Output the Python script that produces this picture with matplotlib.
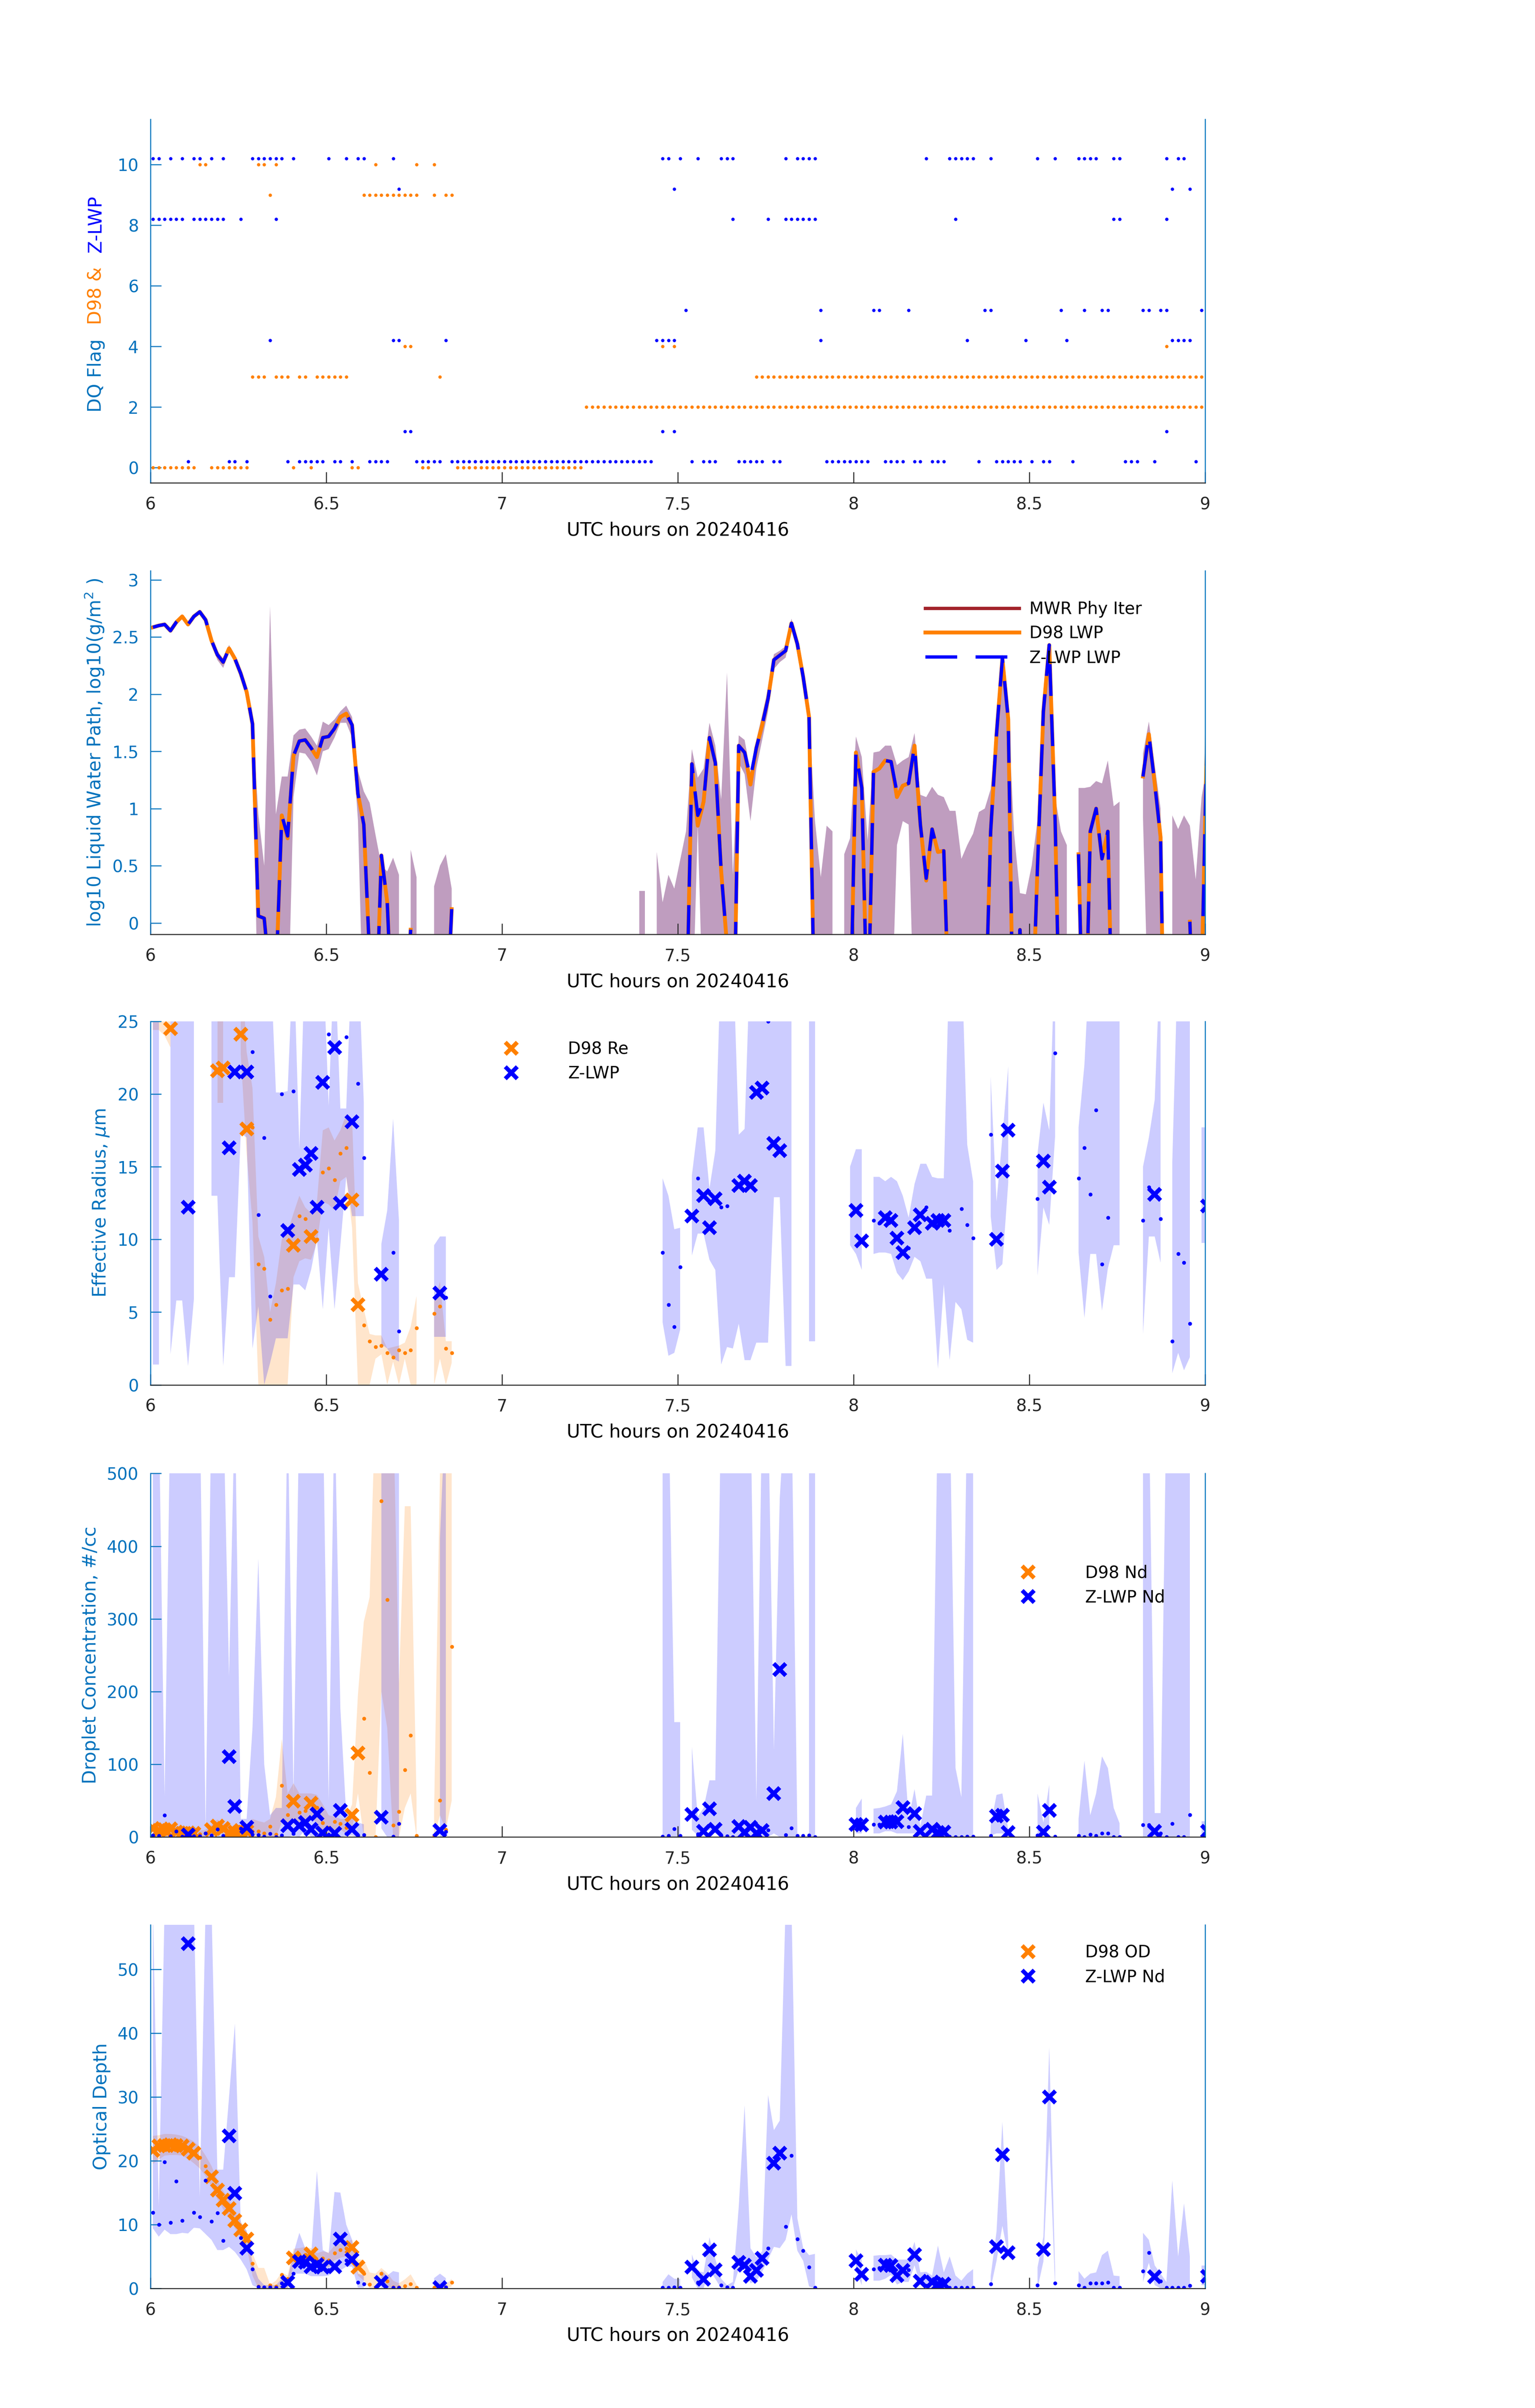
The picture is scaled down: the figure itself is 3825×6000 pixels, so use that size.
import numpy as np
import matplotlib
matplotlib.use("Agg")
import matplotlib.pyplot as plt
from matplotlib.ticker import FormatStrFormatter

plt.rcParams["font.family"] = ["DejaVu Sans"]
plt.rcParams["mathtext.fontset"] = "dejavusans"

# ---------------------------------------------------------------------------
# Data: one sample per minute, 06:00 - 09:00 UTC on 20240416
# ---------------------------------------------------------------------------
N_MIN = 181
TIME = 6 + (np.arange(N_MIN) + 0.42) / 60.0

# DQ flags, given as runs of minute indices per flag value
D98_FLAG_LEVELS = [0, 2, 3, 4, 9, 10]
D98_FLAG_MINUTES = [
    [(0, 7), (10, 16), 24, 27, 34, 35, 46, 47, (52, 73)],
    [(74, 180)],
    [(17, 19), (21, 23), 25, 26, (28, 33), 49, (103, 180)],
    [43, 44, 87, 89, 173],
    [20, (36, 45), 48, 50, 51],
    [8, 9, 18, 19, 21, 38, 45, 48],
]
ZLWP_FLAG_LEVELS = [0, 1, 4, 5, 8, 9, 10]
ZLWP_FLAG_MINUTES = [
    [6, 13, 14, 16, 23, (25, 29), 31, 32, 34, (37, 40), (45, 49), (51, 85), 92,
     (94, 96), (100, 104), 106, 107, (115, 122), (125, 128), 130, 131, (133, 135),
     141, (144, 148), 150, 152, 153, 157, (166, 168), 171, 178, 180],
    [43, 44, 87, 89, 173],
    [20, 41, 42, 50, (86, 89), 114, 139, 149, 156, (174, 177)],
    [91, 114, 123, 124, 129, 142, 143, 155, 159, 162, 163, 169, 170, 172, 173, 179],
    [(0, 5), (7, 12), 15, 21, 99, 105, (108, 113), 137, 164, 165, 173],
    [42, 89, 174, 177],
    [0, 1, 3, 5, 7, 8, 10, 12, (17, 22), 24, 30, 33, 35, 36, 41, 87, 88, 90, 93,
     (97, 99), 108, (110, 113), 132, (136, 140), 143, 151, 154, (158, 161), 164,
     165, 173, 175, 176],
]

# log10 LWP (g/m2), segments of (first minute, values)
ZLWP_LOG = [
    (0, [2.585, 2.60, 2.61, 2.555, 2.63, 2.68, 2.61, 2.68, 2.72, 2.65,
         2.47, 2.345, 2.28, 2.40, 2.31, 2.18, 2.02, 1.74, 0.06, 0.04,
         -0.5, -0.5, 0.94, 0.76, 1.46, 1.59, 1.60, 1.53, 1.45, 1.62,
         1.63, 1.70, 1.80, 1.83, 1.73, 1.13, 0.86, -0.3, -1.0, 0.59,
         0.18, -1.0]),
    (43, [-1.0, -0.06]),
    (50, [-1.0, 0.12]),
    (91, [-1.0, 1.39, 0.94, 1.06, 1.62, 1.40, 0.45, -0.2, -1.5, 1.55,
          1.49, 1.27, 1.53, 1.73, 1.96, 2.30, 2.34, 2.38, 2.62, 2.44,
          2.15, 1.80, -1.0]),
    (119, [-1.0, 1.49, 1.18, -1.0, 1.32, 1.35, 1.42, 1.41, 1.14, 1.20,
           1.22, 1.55, 0.86, 0.39, 0.82, 0.62, 0.63, -1.0]),
    (142, [-1.0, 0.8, 1.65, 2.31, 1.78, -1.5, -0.06, -1.0, -1.0, 0.5,
           1.85, 2.43, 0.9, -1.5]),
    (158, [0.60, -1.5, 0.80, 1.00, 0.56, 0.80, -1.5]),
    (169, [1.28, 1.65, 1.22, 0.75, -2.5]),
    (177, [0.01, -1.5, -0.5, 1.8]),
]
D98_LOG = [
    (0, [2.585, 2.60, 2.61, 2.555, 2.63, 2.68, 2.61, 2.68, 2.72, 2.65,
         2.47, 2.345, 2.28, 2.40, 2.31, 2.18, 2.02, 1.74, 0.06, 0.04,
         -0.5, -0.5, 0.94, 0.74, 1.46, 1.59, 1.60, 1.53, 1.45, 1.62,
         1.63, 1.70, 1.80, 1.83, 1.73, 1.13, 0.86, -0.3, -1.0, 0.59,
         0.18, -1.0]),
    (43, [-1.0, -0.06]),
    (50, [-1.0, 0.12]),
    (91, [-1.0, 1.39, 0.85, 1.06, 1.62, 1.40, 0.45, -0.2, -1.5, 1.55,
          1.49, 1.21, 1.53, 1.73, 1.96, 2.30, 2.34, 2.38, 2.62, 2.44,
          2.15, 1.80, -1.0]),
    (119, [-1.0, 1.49, 1.18, -1.0, 1.32, 1.35, 1.42, 1.41, 1.10, 1.20,
           1.22, 1.55, 0.86, 0.37, 0.82, 0.62, 0.63, -1.0]),
    (142, [-1.0, 0.8, 1.65, 2.31, 1.78, -1.5, -0.06, -1.0, -1.0, 0.5,
           1.85, 2.43, 0.9, -1.5]),
    (158, [0.60, -1.5, 0.80, 1.00, 0.56, 0.80, -1.5]),
    (169, [1.28, 1.65, 1.22, 0.75, -2.5]),
    (177, [0.01, -1.5, -0.5, 1.8]),
]
MWR_LOG = [
    (0, [2.585, 2.60, 2.61, 2.555, 2.63, 2.68, 2.61, 2.68, 2.72, 2.65,
         2.47, 2.345, 2.28, 2.40, 2.31, 2.18, 2.02, 1.74, 0.06, 0.04,
         -0.5, -0.5, 0.94, 0.74, 1.46, 1.59, 1.60, 1.53, 1.45, 1.62,
         1.63, 1.70, 1.80, 1.83, 1.73, 1.13, 0.86, -0.3, -1.0, 0.59,
         0.18, -1.0]),
    (91, [-1.0, 1.39, 0.85, 1.06, 1.62, 1.40, 0.45, -0.2, -1.5, 1.55,
          1.49, 1.21, 1.53, 1.73, 1.96, 2.30, 2.34, 2.38, 2.62, 2.44,
          2.15, 1.80, -1.0]),
    (119, [-1.0, 1.49, 1.18, -1.0, 1.32, 1.35, 1.42, 1.41, 1.10, 1.20,
           1.22, 1.55, 0.86, 0.37, 0.82, 0.62, 0.63, -1.0]),
    (142, [-1.0, 0.8, 1.65, 2.31, 1.78, -1.5, -0.06, -1.0, -1.0, 0.5,
           1.85, 2.43, 0.9, -1.5]),
    (158, [0.60, -1.5, 0.80, 1.00, 0.56, 0.80, -1.5]),
    (169, [1.28, 1.65, 1.22, 0.75, -2.5]),
]
# MWR Phy Iter uncertainty range, (low, high) per minute
MWR_BAND = [
    (0, [(2.575, 2.595), (2.59, 2.61), (2.60, 2.62), (2.545, 2.565), (2.62, 2.64),
         (2.67, 2.69), (2.60, 2.62), (2.67, 2.69), (2.71, 2.73), (2.64, 2.66),
         (2.44, 2.50), (2.30, 2.38), (2.23, 2.31), (2.37, 2.43), (2.28, 2.34),
         (2.15, 2.21), (1.99, 2.05), (1.70, 1.78), (-1, 0.95), (-1, 0.50),
         (-1, 2.77), (-1, 0.95), (-1, 1.28), (-1, 1.28), (1.10, 1.64),
         (1.49, 1.69), (1.48, 1.70), (1.41, 1.63), (1.29, 1.55), (1.50, 1.76),
         (1.52, 1.73), (1.62, 1.78), (1.75, 1.85), (1.75, 1.90), (1.62, 1.80),
         (0.90, 1.33), (-1, 1.15), (-1, 1.05), (-1, 0.77), (-1, 0.50),
         (-1, 0.45), (-1, 0.57), (-1, 0.42)]),
    (44, [(-1, 0.64), (-1, 0.40)]),
    (48, [(-1, 0.32), (-1, 0.50), (-1, 0.60), (-1, 0.30)]),
    (83, [(-1, 0.28), (-1, 0.28)]),
    (86, [(-1, 0.62), (-1, 0.18), (-1, 0.42), (-1, 0.30), (-1, 0.55), (-1, 0.80),
          (-1, 1.52), (0.85, 1.27), (-1, 1.35), (-1, 1.75), (-1, 1.55), (-1, 1.08),
          (-1, 2.19), (-1, 0.42), (1.40, 1.64), (1.30, 1.60), (0.89, 1.32),
          (1.35, 1.60), (1.60, 1.82), (1.85, 2.05), (2.22, 2.35), (2.28, 2.38),
          (2.32, 2.42), (2.56, 2.66), (2.38, 2.48), (2.08, 2.20), (1.72, 1.85),
          (-1, 0.90), (-1, 0.40), (-1, 0.85), (-1, 0.80)]),
    (118, [(-1, 0.60), (-1, 0.74), (-1, 1.63), (-1, 1.45), (-1, 0.72), (-1, 1.49),
           (-1, 1.50), (-1, 1.55), (-1, 1.55), (0.68, 1.38), (0.89, 1.42),
           (0.86, 1.45), (-1, 1.66), (-1, 1.12), (-1, 1.10), (-1, 1.19), (-1, 1.12),
           (-1, 1.10), (-1, 0.98), (-1, 0.98), (-1, 0.56), (-1, 0.68), (-1, 0.78),
           (-1, 0.97), (-1, 1.00), (-1, 1.17), (-1, 1.75), (-1, 2.35), (-1, 1.85),
           (-1, 0.78), (-1, 0.26), (-1, 0.25), (-1, 0.50), (-1, 0.90), (-1, 1.90),
           (-1, 2.45), (-1, 1.10), (-1, 0.80), (-1, 0.68)]),
    (158, [(-1, 1.18), (-1, 1.18), (-1, 1.19), (-1, 1.24), (-1, 1.22), (-1, 1.42),
           (-1, 1.02), (-1, 1.06)]),
    (169, [(0.92, 1.48), (-1, 1.76), (-1, 1.38), (-1, 1.00)]),
    (174, [(-1, 0.94), (-1, 0.82), (-1, 0.94), (-1, 0.85), (-1, 0.38), (-1, 1.10),
           (-1, 1.40)]),
]

# Effective radius (um): (minute, value); "X" = flag 0, dots = other flags
D98_RE_X = [(3, 24.5), (11, 21.6), (12, 21.8), (15, 24.1), (16, 17.6), (24, 9.6),
            (27, 10.2), (34, 12.7), (35, 5.5)]
D98_RE_DOT = [(17, 17.7), (18, 8.3), (19, 8.0), (20, 4.5), (21, 5.5), (22, 6.5),
              (23, 6.6), (25, 11.6), (26, 11.4), (28, 10.0), (29, 14.6), (30, 14.9),
              (31, 14.1), (32, 15.9), (33, 16.3), (36, 4.1), (37, 3.0), (38, 2.6),
              (39, 2.7), (40, 2.2), (41, 1.9), (42, 2.4), (43, 2.2), (44, 2.4),
              (45, 3.9), (48, 4.9), (49, 5.4), (50, 2.5), (51, 2.2)]
D98_RE_BAND = [
    (0, [(24.4, 30), (24.4, 30), (24.0, 30), (23.2, 30)]),
    (11, [(19.4, 30), (19.4, 30)]),
    (15, [(22.7, 30), (15.9, 22.9), (11.2, 20.4), (0, 10.2), (0, 8.8), (0, 5.0),
          (0, 7.0), (0, 10.0), (0, 10.5), (7.4, 11.8), (8.5, 13.0), (8.7, 12.2),
          (8.6, 11.8), (9.8, 12.6), (12.6, 17.5), (12.4, 17.7), (12.0, 16.8),
          (14.0, 17.5), (14.3, 18.6), (10.8, 18.3), (0, 7.0), (0, 5.2), (0, 3.5),
          (1.8, 3.4), (2.1, 3.4), (0, 2.5), (1.6, 2.6), (0, 2.7), (1.8, 2.9),
          (0, 4.0), (0, 6.1)]),
    (48, [(0, 5.8), (1.8, 7.1), (0, 3.0), (1.5, 3.0)]),
]
ZLWP_RE_X = [(6, 12.2), (13, 16.3), (14, 21.5), (16, 21.5), (23, 10.6), (25, 14.8),
             (26, 15.1), (27, 15.9), (28, 12.2), (29, 20.8), (31, 23.2), (32, 12.5),
             (34, 18.1), (39, 7.6), (49, 6.3), (92, 11.6), (94, 13.0), (95, 10.8),
             (96, 12.8), (100, 13.7), (101, 14.0), (102, 13.7), (103, 20.1),
             (104, 20.4), (106, 16.6), (107, 16.1), (120, 12.0), (121, 9.9),
             (125, 11.5), (126, 11.3), (127, 10.1), (128, 9.1), (130, 10.8),
             (131, 11.7), (133, 11.1), (134, 11.3), (135, 11.3), (144, 10.0),
             (145, 14.7), (146, 17.5), (152, 15.4), (153, 13.6), (171, 13.1),
             (180, 12.3)]
ZLWP_RE_DOT = [(17, 22.9), (18, 11.7), (19, 17.0), (20, 6.1), (22, 20.0), (24, 20.2),
               (30, 24.1), (33, 23.9), (35, 20.7), (36, 15.6), (41, 9.1), (42, 3.7),
               (50, 6.0), (87, 9.1), (88, 5.5), (89, 4.0), (90, 8.1), (93, 14.2),
               (97, 12.2), (98, 12.3), (105, 25.0), (123, 11.3), (124, 11.1),
               (129, 9.4), (132, 12.2), (136, 10.6), (138, 12.1), (139, 11.0),
               (140, 10.1), (143, 17.2), (151, 12.8), (154, 22.8), (158, 14.2),
               (159, 16.3), (160, 13.1), (161, 18.9), (162, 8.3), (163, 11.5),
               (169, 11.3), (170, 13.6), (172, 11.4), (174, 3.0), (175, 9.0),
               (176, 8.4), (177, 4.2)]
ZLWP_RE_BAND = [
    (0, [(1.4, 30), (1.4, 30)]),
    (3, [(2.1, 30), (5.8, 30), (5.8, 30), (1.3, 30), (5.9, 30)]),
    (10, [(13.0, 30), (13.0, 30), (1.3, 30), (7.4, 30), (7.4, 30), (17.3, 30),
          (17.0, 30), (2.5, 30), (5.4, 30), (0, 30), (1.5, 30), (3.2, 20.1),
          (3.2, 20.1), (3.2, 20.2), (6.9, 30), (6.9, 16.2), (6.5, 30), (7.9, 30),
          (10.0, 30), (5.2, 30), (10.8, 19.2), (5.2, 30), (9.6, 19.0), (14.3, 19.0),
          (11.6, 30), (11.6, 30), (11.6, 19.4)]),
    (39, [(2.8, 9.7), (2.5, 12.0), (1.8, 18.3), (1.6, 11.3)]),
    (48, [(3.3, 9.6), (3.3, 10.2), (3.3, 10.2)]),
    (87, [(4.3, 14.2), (2.0, 13.0), (2.2, 10.7), (3.8, 10.8)]),
    (92, [(8.9, 14.4), (10.4, 17.7), (10.4, 17.7), (8.6, 13.5), (7.9, 16.1),
          (1.4, 30), (2.6, 30), (2.5, 30), (4.2, 17.2), (1.7, 17.6), (1.7, 30),
          (2.9, 30), (2.9, 30), (2.9, 30), (12.9, 30), (12.9, 30), (1.3, 30),
          (1.3, 30)]),
    (112, [(3.0, 30), (3.0, 30)]),
    (119, [(9.6, 15.0), (9.0, 16.2), (7.9, 16.2)]),
    (123, [(9.0, 14.3), (9.1, 14.3), (9.1, 14.0), (9.0, 14.3), (7.7, 14.0),
           (7.2, 13.0), (7.8, 11.5), (8.8, 13.8), (8.5, 15.2), (7.3, 15.2),
           (7.3, 14.3), (1.1, 14.2), (6.9, 14.2), (1.7, 30), (5.7, 30), (5.2, 30),
           (3.1, 16.5), (2.9, 14.0)]),
    (143, [(11.6, 21.2), (7.9, 12.6), (8.3, 17.0), (13.9, 21.9)]),
    (151, [(7.5, 15.9), (12.2, 19.4), (11.0, 17.5), (17.1, 30)]),
    (158, [(9.1, 17.7), (4.6, 22.0), (9.0, 30), (9.0, 30), (5.1, 30), (8.0, 30),
           (9.6, 30), (9.6, 30)]),
    (169, [(3.5, 15.0), (10.2, 17.0), (10.2, 19.6), (8.4, 30)]),
    (174, [(0.8, 15.3), (2.2, 30), (1.0, 30), (1.9, 30)]),
    (179, [(9.75, 17.7), (9.75, 17.7)]),
]

# Droplet concentration (#/cc)
D98_ND_X = [(0, 12), (1, 9), (2, 10), (3, 11), (4, 7), (5, 5), (6, 6), (7, 5),
            (10, 10), (11, 15), (12, 12), (13, 6), (14, 7), (15, 9), (16, 8),
            (24, 49.2), (27, 46.4), (34, 29.9), (35, 115.3)]
D98_ND_DOT = [(8, 4), (9, 5), (17, 8.1), (18, 8.0), (19, 5.3), (20, 14.8), (21, 3.5),
              (22, 71.0), (23, 30.6), (25, 34.1), (26, 35.9), (28, 40.4), (29, 19.3),
              (30, 13.0), (31, 21.1), (32, 18.3), (33, 13.0), (36, 162.8), (37, 88.6),
              (38, 0.0), (39, 462.4), (40, 326.3), (41, 16.5), (42, 35.2), (43, 92.5),
              (44, 139.9), (45, 1.8), (48, 1.1), (49, 50.3), (50, 10.0), (51, 262.0)]
D98_ND_BAND = [
    (0, [(2, 20), (1, 16), (2, 17), (2, 18), (1, 14), (0, 11), (0, 12), (0, 11),
         (0, 9), (0, 10), (3, 17), (6, 24), (4, 20), (0, 12), (0, 13), (2, 16),
         (1, 15), (0, 25), (0, 22), (0, 20), (0, 25), (0, 55), (20, 135), (10, 60),
         (25, 74), (15, 60), (20, 60), (25, 60), (20, 58), (5, 45), (5, 30),
         (10, 28), (10, 25), (5, 25), (10, 45), (60, 196), (0, 296), (0, 330),
         (0, 600), (200, 600), (150, 600), (0, 600), (0, 211), (40, 455),
         (60, 455), (0, 51)]),
    (48, [(0, 35), (30, 500), (10, 600), (50, 600)]),
]
ZLWP_ND_X = [(6, 3.0), (13, 110.8), (14, 42.2), (16, 13.4), (23, 15.8), (25, 15.8),
             (26, 20.0), (27, 10.5), (28, 31.6), (29, 6.0), (31, 5.3), (32, 36.9),
             (34, 10.5), (39, 27.1), (49, 8.8), (92, 30.9), (94, 8.1), (95, 38.7),
             (96, 10.5), (100, 14.8), (101, 6.3), (102, 13.4), (103, 5.3), (104, 8.8),
             (106, 59.8), (107, 230.3), (120, 17.6), (121, 16.9), (125, 20.4),
             (126, 20.4), (127, 21.1), (128, 40.4), (130, 32.3), (131, 8.1),
             (133, 10.5), (134, 6.3), (135, 7.0), (144, 28.8), (145, 29.9), (146, 6.3),
             (152, 7.0), (153, 36.9), (171, 8.1), (180, 8.1)]
ZLWP_ND_DOT = [(0, 2.5), (1, 1.8), (2, 29.9), (3, 1.1), (4, 8.1), (5, 0.7), (7, 1.4),
               (8, 1.1), (9, 5.3), (10, 2.5), (11, 10.5), (12, 1.8), (15, 11.6),
               (17, 3.5), (18, 2.8), (19, 0.7), (20, 4.6), (21, 0.0), (22, 2.5),
               (24, 4.6), (30, 3.5), (33, 4.6), (35, 2.5), (36, 2.8), (41, 0.7),
               (42, 18.6), (50, 7.4), (87, 0.7), (88, 1.8), (89, 11.5), (90, 1.8),
               (93, 4.2), (97, 2.5), (98, 1.1), (99, 0.0), (105, 9.5), (108, 2.8),
               (109, 12.3), (110, 1.8), (111, 1.8), (112, 2.5), (113, 0.0), (123, 17.6),
               (124, 17.6), (129, 14.1), (132, 2.5), (136, 0.7), (137, 0.0), (138, 0.0),
               (139, 0.7), (140, 0.7), (143, 1.8), (151, 2.5), (154, 0.7), (158, 1.8),
               (159, 0.0), (160, 3.5), (161, 1.8), (162, 5.3), (163, 5.3), (164, 0.0),
               (165, 0.0), (169, 16.9), (170, 16.9), (172, 5.3), (173, 0.0), (174, 18.6),
               (175, 0.0), (176, 0.0), (177, 30.6)]
ZLWP_ND_BAND = [
    (0, [(0, 600), (0, 600), (0, 56), (0, 600), (0, 600), (0, 600), (0, 600),
         (0, 600), (0, 600), (0, 12), (0, 600), (0, 600), (0, 600), (0, 221),
         (0, 600), (0, 25), (0, 25), (5, 150), (0, 383), (0, 100), (0, 30), (0, 40),
         (0, 40), (0, 600), (2, 60), (0, 600), (10, 600), (0, 600), (0, 600),
         (0, 600), (0, 50), (0, 600), (0, 177), (2, 30), (2, 30), (0, 20),
         (0, 17.6)]),
    (39, [(12, 600), (0, 600), (0, 600), (0, 600)]),
    (49, [(0, 411), (0, 600)]),
    (87, [(0, 600), (0, 600), (0, 158), (0, 158)]),
    (92, [(10, 124), (2, 28), (5, 40), (10, 78), (5, 78), (0, 600), (0, 600),
          (0, 600), (0, 600), (0, 600), (0, 600), (0, 50), (0, 600), (0, 600),
          (5, 120), (0, 466), (0, 600), (0, 600), (0, 10)]),
    (112, [(0, 600), (0, 600)]),
    (120, [(5, 40), (5, 53)]),
    (123, [(5, 39), (5, 40), (8, 42), (8, 45), (5, 63), (5, 142), (5, 25), (5, 66),
           (0, 15), (0, 57), (0, 57), (0, 600), (0, 600), (0, 600), (0, 95), (0, 55),
           (0, 600), (0, 600)]),
    (143, [(2, 16), (5, 58), (5, 60), (0, 10)]),
    (151, [(0, 60), (2, 20), (10, 72)]),
    (158, [(0, 25), (0, 105), (0, 30), (0, 60), (0, 111), (0, 95), (0, 40), (0, 19)]),
    (169, [(0, 600), (0, 600), (0, 33), (0, 33), (0, 600), (0, 600), (0, 600),
           (0, 600), (0, 600)]),
    (179, [(0, 22), (0, 22)]),
]

# Optical depth
D98_OD_X = [(0, 21.6), (1, 22.3), (2, 22.4), (3, 22.5), (4, 22.4), (5, 22.3),
            (6, 21.8), (7, 21.2), (10, 17.5), (11, 15.4), (12, 13.8), (13, 12.5),
            (14, 10.6), (15, 9.2), (16, 7.7), (24, 4.75), (27, 5.4), (34, 6.4),
            (35, 3.3)]
D98_OD_DOT = [(8, 20.5), (9, 19.2), (17, 3.9), (18, 0.3), (19, 0.1), (20, 0.5),
              (21, 0.3), (22, 2.1), (23, 1.5), (25, 5.2), (26, 5.3), (28, 4.3),
              (29, 4.7), (30, 4.4), (31, 5.5), (32, 6.0), (33, 6.25), (36, 2.3),
              (37, 0.6), (38, 0.1), (39, 2.3), (40, 1.1), (41, 0.2), (42, 0.2),
              (43, 0.35), (44, 0.66), (45, 0.1), (48, 0.1), (49, 0.2), (50, 0.2),
              (51, 0.9)]
D98_OD_BAND = [
    (0, [(19.5, 23.9), (20.2, 24.0), (20.8, 24.2), (20.9, 24.2), (20.9, 24.1),
         (20.8, 23.9), (20.3, 23.5), (19.6, 23.0), (18.8, 22.2), (17.6, 20.8),
         (15.9, 19.2), (14.0, 17.0), (12.4, 15.3), (11.2, 13.9), (9.4, 12.0),
         (8.1, 10.5), (6.5, 9.0), (2.0, 5.5), (0, 3.2), (0, 3.2), (0, 0.6),
         (0, 1.2), (0, 2.5), (0, 2.0), (3.5, 6.2), (4.1, 6.3), (4.2, 6.5),
         (4.3, 6.3), (3.2, 5.5), (3.5, 5.8), (3.3, 5.6), (4.4, 6.7), (4.8, 7.0),
         (5.0, 7.3), (5.0, 7.6), (2.0, 4.5), (1.2, 4.5), (0, 2.5), (0, 2.3),
         (1.0, 3.2), (0.3, 2.4), (0, 1.2), (0, 0.8), (0, 1.4), (0, 2.2), (0, 0.6)]),
    (48, [(0, 0.6), (0, 0.8), (0, 0.6), (0.3, 1.5)]),
]
ZLWP_OD_X = [(6, 54.0), (13, 23.9), (14, 14.9), (16, 6.3), (23, 0.9), (25, 4.2),
             (26, 4.1), (27, 3.4), (28, 3.7), (29, 3.3), (31, 3.4), (32, 7.7),
             (34, 4.5), (39, 0.9), (49, 0.13), (92, 3.3), (94, 1.45), (95, 6.0),
             (96, 2.9), (100, 4.1), (101, 3.65), (102, 1.9), (103, 2.8), (104, 4.7),
             (106, 19.6), (107, 21.2), (120, 4.3), (121, 2.2), (125, 3.65), (126, 3.6),
             (127, 2.0), (128, 2.8), (130, 5.3), (131, 1.1), (133, 1.0), (134, 0.6),
             (135, 0.66), (144, 6.5), (145, 20.95), (146, 5.6), (152, 6.1), (153, 30.0),
             (171, 1.8), (180, 1.9)]
ZLWP_OD_DOT = [(0, 11.9), (1, 10.0), (2, 19.8), (3, 10.3), (4, 16.8), (5, 10.6),
               (7, 11.9), (8, 11.2), (9, 16.9), (10, 10.5), (11, 11.8), (12, 7.5),
               (15, 7.9), (17, 3.0), (18, 0.26), (19, 0.2), (20, 0.2), (21, 0.1),
               (22, 0.8), (24, 2.3), (30, 2.9), (33, 4.4), (35, 0.9), (36, 0.66),
               (41, 0.13), (42, 0.1), (50, 0.2), (87, 0.13), (88, 0.13), (89, 0.2),
               (90, 0.13), (93, 0.9), (97, 0.5), (98, 0.2), (99, 0.1), (105, 6.3),
               (108, 9.7), (109, 20.8), (110, 7.7), (111, 5.9), (112, 3.3), (113, 0.1),
               (123, 3.0), (124, 3.2), (129, 2.9), (132, 0.4), (136, 0.1), (137, 0.1),
               (138, 0.1), (139, 0.1), (140, 0.1), (143, 0.66), (151, 0.5), (154, 0.8),
               (158, 0.5), (159, 0.1), (160, 0.8), (161, 0.8), (162, 0.8), (163, 0.9),
               (164, 0.1), (165, 0.1), (169, 2.7), (170, 5.6), (172, 1.1), (173, 0.1),
               (174, 0.1), (175, 0.1), (176, 0.1), (177, 0.4)]
ZLWP_OD_BAND = [
    (0, [(9.4, 60), (8.1, 12.9), (9.2, 60), (8.5, 60), (8.5, 60), (8.7, 60),
         (8.6, 60), (9.5, 60), (9.4, 14.4), (8.5, 60), (7.6, 60), (6.0, 18.6),
         (6.0, 18.6), (6.5, 30), (5.7, 41.5), (4.5, 10.3), (3.0, 9.0), (0.5, 4.0),
         (0, 1.5), (0, 0.5), (0, 0.5), (0, 0.5), (0.2, 1.5), (0.1, 1.5), (2.3, 5.5),
         (2.3, 8.7), (2.3, 6.3), (1.9, 5.0), (1.9, 18.4), (1.9, 6.0), (2.0, 5.5),
         (2.8, 15.1), (2.8, 15.0), (3.4, 10.0), (3.4, 7.6), (0.1, 2.3), (0.1, 2.0)]),
    (39, [(0.1, 2.8), (0.1, 2.0), (0, 2.7), (0, 2.5)]),
    (48, [(0, 1.6), (0, 2.3), (0, 1.6)]),
    (87, [(0, 1.0), (0, 2.2), (0, 1.5), (0, 1.5)]),
    (92, [(1.7, 5.3), (0, 2.7), (0, 2.5), (2.9, 8.0), (1.5, 4.6), (0, 1.5), (0, 0.5),
          (0, 1.0), (3.0, 12.8), (3.2, 28.7), (0.8, 6.3), (1.1, 4.9), (2.6, 5.8),
          (4.5, 30.3), (6.5, 24.8), (6.3, 26.3), (7.6, 60), (11.6, 60), (5.9, 11.0),
          (4.3, 6.3), (0.3, 5.2), (0, 5.4)]),
    (120, [(2.8, 6.1), (0.5, 4.5)]),
    (123, [(1.2, 5.1), (1.2, 5.2), (1.5, 5.2), (2.1, 5.3), (0.6, 4.5), (1.0, 4.5),
           (1.0, 4.5), (3.6, 7.3), (0.5, 2.5), (0, 2.6), (0, 2.0), (0, 6.7),
           (0, 2.5), (0, 5.0), (0, 2.0), (0, 1.2), (0, 2.3), (0, 3.0)]),
    (143, [(0, 1.9), (4.3, 8.9), (9.8, 26.1), (5.0, 7.2)]),
    (151, [(0, 3.3), (4.2, 8.1), (23.9, 37.8), (0, 2.7)]),
    (158, [(0, 2.7), (0, 1.5), (0, 2.3), (0, 2.5), (0, 5.2), (0, 5.9), (0, 2.0),
           (0, 1.9)]),
    (169, [(1.0, 8.7), (4.0, 7.6), (0.5, 3.6), (0, 2.3), (0, 1.0), (0, 16.9),
           (0, 5.0), (0, 13.3), (0, 5.0)]),
    (179, [(0.5, 3.6), (0.5, 3.6)]),
]

# ---------------------------------------------------------------------------
# Styling
# ---------------------------------------------------------------------------
AX_BLUE = "#0072BD"
ORANGE = "#FF8000"
BLUE = "#0000FF"
MWR_RED = "#A2232A"
BAND_PURPLE = (0.5, 0.24, 0.5)
DARK = "#262626"
XTICKS = [6, 6.5, 7, 7.5, 8, 8.5, 9]


def expand(runs):
    idx = []
    for r in runs:
        if isinstance(r, tuple):
            idx.extend(range(r[0], r[1] + 1))
        else:
            idx.append(r)
    return np.array(idx, dtype=int)


def series(segments):
    out = np.full(N_MIN, np.nan)
    for start, vals in segments:
        out[start:start + len(vals)] = vals
    return out


def band(segments):
    lo = np.full(N_MIN, np.nan)
    hi = np.full(N_MIN, np.nan)
    for start, pairs in segments:
        arr = np.asarray(pairs, dtype=float)
        lo[start:start + len(arr)] = arr[:, 0]
        hi[start:start + len(arr)] = arr[:, 1]
    return lo, hi


def points(pairs):
    arr = np.asarray(pairs, dtype=float)
    return TIME[arr[:, 0].astype(int)], arr[:, 1]


def style_axes(ax, ylim, yticks, ylabel=None):
    ax.set_xlim(6, 9)
    ax.set_ylim(*ylim)
    ax.set_xticks(XTICKS)
    ax.set_yticks(yticks)
    ax.xaxis.set_major_formatter(FormatStrFormatter("%g"))
    ax.yaxis.set_major_formatter(FormatStrFormatter("%g"))
    ax.spines["top"].set_visible(False)
    for side in ("left", "right"):
        ax.spines[side].set_color(AX_BLUE)
        ax.spines[side].set_linewidth(0.6)
    ax.spines["bottom"].set_color(DARK)
    ax.spines["bottom"].set_linewidth(0.6)
    ax.tick_params(axis="x", direction="in", length=6.5, width=0.6, color=DARK,
                   labelcolor=DARK, labelsize=10, pad=8, top=False)
    ax.tick_params(axis="y", direction="in", length=6.5, width=0.6, color=AX_BLUE,
                   labelcolor=AX_BLUE, labelsize=10, pad=7, right=False)
    ax.set_xlabel("UTC hours on 20240416", fontsize=11, color="black", labelpad=5)
    if ylabel:
        ax.set_ylabel(ylabel, fontsize=11, color=AX_BLUE)


def retrieval_panel(ax, d98_band, d98_x, d98_dot, z_band, z_x, z_dot):
    lo, hi = band(d98_band)
    ax.fill_between(TIME, lo, hi, color=ORANGE, alpha=0.2, lw=0)
    t, v = points(d98_x)
    h1, = ax.plot(t, v, "x", ms=7.0, mew=2.5, color=ORANGE, ls="none")
    t, v = points(d98_dot)
    ax.plot(t, v, "o", ms=2.3, mec="none", color=ORANGE, ls="none")
    lo, hi = band(z_band)
    ax.fill_between(TIME, lo, hi, color=BLUE, alpha=0.2, lw=0)
    t, v = points(z_x)
    h2, = ax.plot(t, v, "x", ms=7.0, mew=2.5, color=BLUE, ls="none")
    t, v = points(z_dot)
    ax.plot(t, v, "o", ms=2.3, mec="none", color=BLUE, ls="none")
    return h1, h2


def panel_legend(ax, handles, labels, anchor):
    ax.legend(handles, labels, loc="upper left", bbox_to_anchor=anchor,
              frameon=False, fontsize=10, handlelength=5.6, handletextpad=0.6,
              labelspacing=0.45, borderpad=0, borderaxespad=0, numpoints=1)


fig = plt.figure(figsize=(12.75, 20), dpi=300)
LEFT, WIDTH, HEIGHT = 0.098, 0.687, 0.151
BOTTOMS = [0.7995, 0.612, 0.4249, 0.2371, 0.0497]
axes = [fig.add_axes([LEFT, b, WIDTH, HEIGHT]) for b in BOTTOMS]

# Panel 1: DQ flags
ax = axes[0]
for level, runs in zip(D98_FLAG_LEVELS, D98_FLAG_MINUTES):
    idx = expand(runs)
    ax.plot(TIME[idx], np.full(len(idx), float(level)), "o", ms=2.0, mec="none",
            color=ORANGE, ls="none")
for level, runs in zip(ZLWP_FLAG_LEVELS, ZLWP_FLAG_MINUTES):
    idx = expand(runs)
    ax.plot(TIME[idx], np.full(len(idx), level + 0.2), "o", ms=2.0, mec="none",
            color=BLUE, ls="none")
style_axes(ax, (-0.5, 11.5), [0, 2, 4, 6, 8, 10])

# Panel 2: log10 LWP
ax = axes[1]
h_mwr, = ax.plot(TIME, series(MWR_LOG), color=MWR_RED, lw=2.0)
h_d98, = ax.plot(TIME, series(D98_LOG), color=ORANGE, lw=2.3)
lo, hi = band(MWR_BAND)
ax.fill_between(TIME, lo, hi, color=BAND_PURPLE, alpha=0.5, lw=0)
h_z, = ax.plot(TIME, series(ZLWP_LOG), color=BLUE, lw=2.0, dashes=(9.5, 5.5))
style_axes(ax, (-0.1, 3.08), [0, 0.5, 1, 1.5, 2, 2.5, 3],
           r"log10 Liquid Water Path, log10(g/m$^2$ )")
panel_legend(ax, [h_mwr, h_d98, h_z], ["MWR Phy Iter", "D98 LWP", "Z-LWP LWP"],
             (0.735, 0.917))

# Panel 3: effective radius
ax = axes[2]
h1, h2 = retrieval_panel(ax, D98_RE_BAND, D98_RE_X, D98_RE_DOT,
                         ZLWP_RE_BAND, ZLWP_RE_X, ZLWP_RE_DOT)
style_axes(ax, (0, 25), [0, 5, 10, 15, 20, 25], r"Effective Radius, $\mu$m")
panel_legend(ax, [h1, h2], ["D98 Re", "Z-LWP"], (0.2976, 0.946))

# Panel 4: droplet concentration
ax = axes[3]
h1, h2 = retrieval_panel(ax, D98_ND_BAND, D98_ND_X, D98_ND_DOT,
                         ZLWP_ND_BAND, ZLWP_ND_X, ZLWP_ND_DOT)
style_axes(ax, (0, 500), [0, 100, 200, 300, 400, 500],
           "Droplet Concentration, #/cc")
panel_legend(ax, [h1, h2], ["D98 Nd", "Z-LWP Nd"], (0.788, 0.749))

# Panel 5: optical depth
ax = axes[4]
h1, h2 = retrieval_panel(ax, D98_OD_BAND, D98_OD_X, D98_OD_DOT,
                         ZLWP_OD_BAND, ZLWP_OD_X, ZLWP_OD_DOT)
style_axes(ax, (0, 57), [0, 10, 20, 30, 40, 50], "Optical Depth")
panel_legend(ax, [h1, h2], ["D98 OD", "Z-LWP Nd"], (0.788, 0.946))

# multi-coloured y label of the flag panel
fig.canvas.draw()
renderer = fig.canvas.get_renderer()
y = 0.8288
for txt, col in [("DQ Flag", AX_BLUE), ("D98 &", ORANGE), ("Z-LWP", BLUE)]:
    t = fig.text(0.0627, y, txt, rotation=90, rotation_mode="anchor", ha="left",
                 va="center", color=col, fontsize=11)
    bb = t.get_window_extent(renderer)
    y += bb.height / fig.bbox.height + 36.0 / 6000

fig.savefig("out.png", dpi=300)
